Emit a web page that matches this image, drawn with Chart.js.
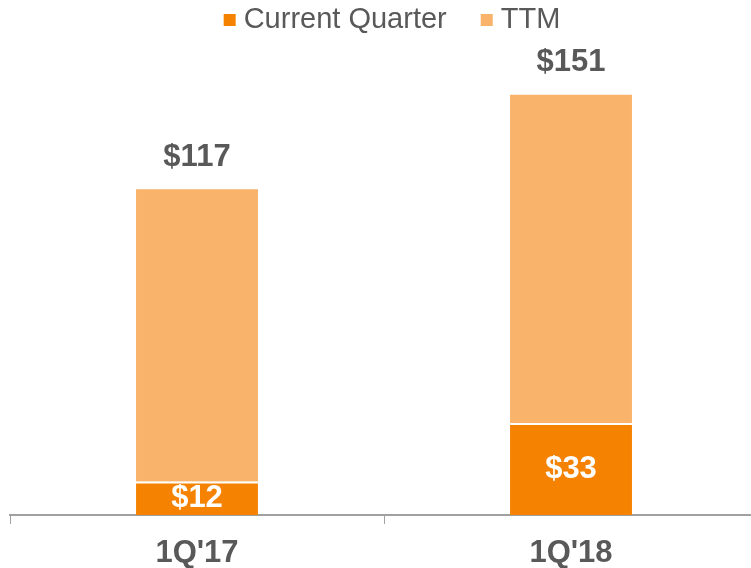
<!DOCTYPE html>
<html>
<head>
<meta charset="utf-8">
<script src="https://cdn.jsdelivr.net/npm/chart.js@4/dist/chart.umd.min.js"></script>
<style>
    html, body { margin: 0; padding: 0; background: #fff; overflow: hidden; }
    #wrap { width: 760px; height: 584px; position: relative; }
</style>
</head>
<body>
<div id="wrap"><canvas id="revenueChart"></canvas></div>
<script>
// Dados do gráfico
const categories = ["1Q'17", "1Q'18"];
const currentQuarter = [12, 33];
const ttmTotal = [117, 151];
const seriesNames = ['Current Quarter', 'TTM'];

const darkOrange = '#F58200';
const lightOrange = '#F9B36B';
const textGray = '#595959';
const fontFamily = '"Liberation Sans", Arial, sans-serif';

// parte do TTM acima do trimestre atual (barras empilhadas)
const ttmRest = ttmTotal.map((v, i) => v - currentQuarter[i]);

// Rótulos de valor
const valueLabels = {
    id: 'valueLabels',
    afterDatasetsDraw(chart) {
        const ctx = chart.ctx;
        ctx.save();
        ctx.font = 'bold 31px ' + fontFamily;
        ctx.textAlign = 'center';
        ctx.textBaseline = 'middle';

        chart.getDatasetMeta(0).data.forEach((bar, i) => {
            ctx.fillStyle = '#fff';
            ctx.fillText('$' + currentQuarter[i], bar.x, (bar.y + bar.base) / 2);
        });

        chart.getDatasetMeta(1).data.forEach((bar, i) => {
            ctx.fillStyle = textGray;
            ctx.fillText('$' + ttmTotal[i], bar.x, bar.y - 32);
        });
        ctx.restore();
    }
};

// Legenda desenhada no canvas
const topLegend = {
    id: 'topLegend',
    afterDraw(chart) {
        const ctx = chart.ctx;
        const datasets = chart.data.datasets;
        ctx.save();
        ctx.font = '29px ' + fontFamily;
        ctx.textBaseline = 'middle';
        const box = 12, gap = 8, spacing = 34;
        const widths = datasets.map(d => ctx.measureText(d.label).width);
        let total = 0;
        widths.forEach((w, i) => { total += box + gap + w + (i ? spacing : 0); });
        let x = 392 - total / 2;
        const y = 20;
        datasets.forEach((d, i) => {
            ctx.fillStyle = d.backgroundColor;
            ctx.fillRect(x, y - box / 2, box, box);
            ctx.fillStyle = textGray;
            ctx.fillText(d.label, x + box + gap, y);
            x += box + gap + widths[i] + spacing;
        });
        ctx.restore();
    }
};

document.addEventListener('DOMContentLoaded', function() {
    const ctx = document.getElementById('revenueChart').getContext('2d');
    new Chart(ctx, {
        type: 'bar',
        data: {
            labels: categories,
            datasets: [{
                label: seriesNames[0],
                data: currentQuarter,
                backgroundColor: darkOrange,
                borderColor: '#fff',
                borderWidth: { top: 2, left: 0, right: 0, bottom: 0 },
                borderSkipped: false
            }, {
                label: seriesNames[1],
                data: ttmRest,
                backgroundColor: lightOrange,
                borderWidth: 0
            }]
        },
        options: {
            responsive: true,
            maintainAspectRatio: false,
            animation: false,
            layout: {
                padding: { left: 10, right: 2, top: 0, bottom: 0 }
            },
            datasets: {
                bar: {
                    categoryPercentage: 1,
                    barPercentage: 0.326
                }
            },
            scales: {
                x: {
                    stacked: true,
                    grid: {
                        display: true,
                        offset: true,
                        drawOnChartArea: false,
                        drawTicks: true,
                        tickLength: 9,
                        color: '#a0a0a0',
                        lineWidth: 1
                    },
                    border: {
                        display: true,
                        color: '#a0a0a0',
                        width: 2
                    },
                    ticks: {
                        color: textGray,
                        padding: 13,
                        font: { family: fontFamily, size: 31, weight: 'bold', lineHeight: 1.1 }
                    }
                },
                y: {
                    stacked: true,
                    display: false,
                    min: 0,
                    max: 185
                }
            },
            plugins: {
                legend: { display: false },
                tooltip: { enabled: false }
            }
        },
        plugins: [valueLabels, topLegend]
    });
});
</script>
</body>
</html>
